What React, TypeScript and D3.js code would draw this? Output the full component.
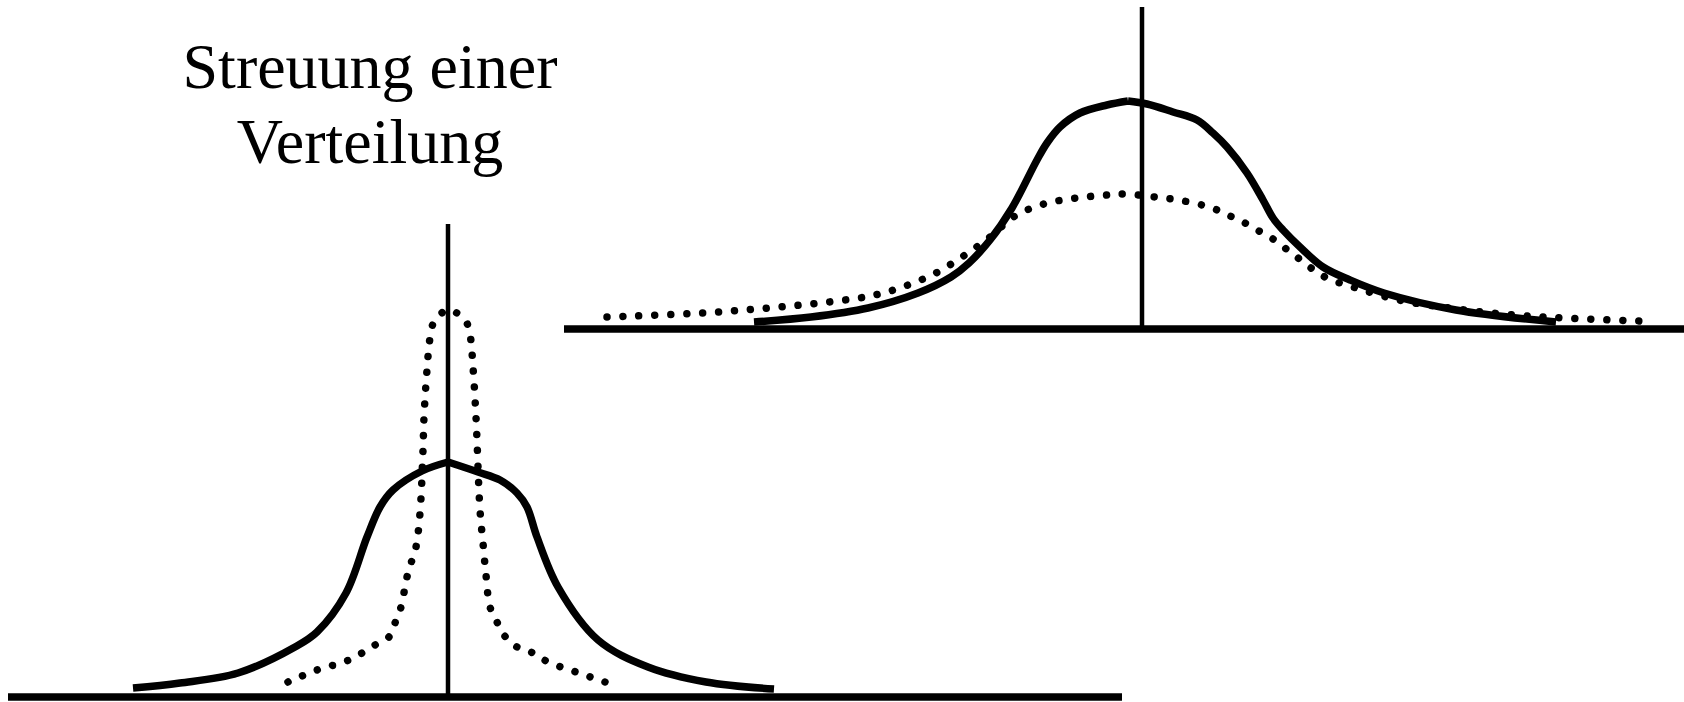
import React, { useLayoutEffect, useRef } from "react";
import * as d3 from "d3";

// Narrow distribution (lower-left panel): x as offset from the centre line, y as height above the base line
const narrowSolidX = [-31.5, -26.8, -21.0, -15.3, -13.1, -10.2, -8.1, -6.8, -5.5, -2.6, 0, 3.0, 5.2, 6.9, 7.9, 8.9, 11.0, 15.0, 20.0, 25.8, 32.6];
const narrowSolidY = [0.9, 1.4, 2.4, 5.0, 6.5, 10.4, 16.0, 19.0, 20.7, 22.6, 23.5, 22.5, 21.7, 20.4, 19.0, 16.0, 11.0, 5.7, 3.0, 1.5, 0.8];

const narrowDottedX = [-16.0, -13.1, -9.9, -7.3, -5.9, -5.3, -4.7, -4.1, -3.6, -3.2, -2.8, -2.5, -2.4, -2.1, -1.8, -1.4, 0, 1.7, 2.2, 2.5, 2.8, 3.2, 3.5, 3.8, 4.2, 4.9, 5.6, 6.9, 8.5, 10.0, 12.8, 15.7];
const narrowDottedY = [1.5, 2.7, 3.7, 5.2, 6.0, 7.4, 9.0, 12.0, 13.7, 15.0, 18.4, 24.7, 28.0, 32.7, 35.9, 37.5, 38.7, 37.7, 36.2, 33.0, 28.0, 18.7, 15.4, 12.2, 9.0, 7.5, 6.2, 5.0, 4.4, 3.5, 2.5, 1.5];

// Wide distribution (upper-right panel)
const wideSolidX = [-38.8, -33.1, -27.4, -22.4, -19.1, -17.3, -15.2, -13.0, -10.5, -9.5, -8.2, -6.2, -3.5, -1.4, 0.5, 3.1, 5.5, 7.1, 8.5, 10.5, 12.1, 13.1, 14.1, 15.8, 18.1, 20.8, 24.2, 31.4, 41.4];
const wideSolidY = [0.7, 1.2, 2.1, 3.6, 5.2, 6.6, 8.9, 12.1, 16.9, 18.6, 20.2, 21.6, 22.4, 22.8, 22.5, 21.7, 20.9, 19.6, 18.2, 15.6, 12.9, 11.1, 9.9, 8.2, 6.2, 4.9, 3.6, 1.9, 0.7];

const wideDottedX = [-53.5, -43.9, -37.4, -31.3, -26.7, -23.4, -20.6, -17.7, -15.2, -12.7, -9.8, -6.6, -3.4, -1.8, 1.3, 4.2, 7.0, 8.8, 10.3, 11.7, 13.1, 14.3, 15.6, 16.9, 18.5, 21.4, 25.7, 30.7, 37.1, 42.2, 49.7];
const wideDottedY = [1.2, 1.6, 2.1, 2.7, 3.4, 4.4, 5.6, 7.4, 9.2, 11.3, 12.5, 13.1, 13.4, 13.5, 13.2, 12.8, 12.1, 11.3, 10.6, 9.8, 9.0, 8.1, 7.1, 6.1, 5.1, 4.1, 2.9, 2.1, 1.4, 1.1, 0.8];

// Axis extents in the same units: [left end, right end] of the base line, top of the centre line
const narrowBaseExtent = [-44, 67.4];
const narrowCentreTop = 47.3;
const wideBaseExtent = [-57.8, 54.2];
const wideCentreTop = 32.2;

const titleLines = ["Streuung einer", "Verteilung"];

const DOT_STEP = 16;

type Pt = [number, number];

const zip = (xs: number[], ys: number[]): Pt[] => xs.map((x, i) => [x, ys[i]]);

function Panel({
  cx, baseY, solid, dotted, baseExtent, centreTop,
}: {
  cx: number; baseY: number; solid: Pt[]; dotted: Pt[]; baseExtent: number[]; centreTop: number;
}) {
  const dotRef = useRef<SVGPathElement>(null);

  const x = d3.scaleLinear().domain([-10, 10]).range([cx - 100, cx + 100]);
  const y = d3.scaleLinear().domain([0, 10]).range([baseY, baseY - 100]);

  const smooth = d3.line<Pt>().x((d) => x(d[0])).y((d) => y(d[1])).curve(d3.curveCatmullRom.alpha(0.5));

  // the solid curve meets in a point at its maximum: draw each flank separately
  const peakIdx = d3.maxIndex(solid, (d) => d[1]);
  const leftFlank = solid.slice(0, peakIdx + 1);
  const rightFlank = solid.slice(peakIdx);

  // space the dots evenly so that one sits at (just inside) each end of the dotted curve
  useLayoutEffect(() => {
    const el = dotRef.current;
    if (!el) return;
    const len = el.getTotalLength();
    const n = Math.max(1, Math.round(len / DOT_STEP));
    const step = (len - 0.5) / n;
    el.setAttribute("stroke-dasharray", `0.01 ${step - 0.01}`);
  }, [dotted]);

  return (
    <g>
      <line x1={x(baseExtent[0])} x2={x(baseExtent[1])} y1={y(0)} y2={y(0)} stroke="#000" strokeWidth={7.5} />
      <line x1={x(0)} x2={x(0)} y1={y(0)} y2={y(centreTop)} stroke="#000" strokeWidth={4.5} />
      <path
        ref={dotRef}
        d={smooth(dotted) || ""}
        fill="none"
        stroke="#000"
        strokeWidth={7.5}
        strokeLinecap="round"
        strokeDasharray={`0 ${DOT_STEP}`}
      />
      <path
        d={(smooth(leftFlank) || "") + (smooth(rightFlank) || "")}
        fill="none"
        stroke="#000"
        strokeWidth={7.5}
      />
    </g>
  );
}

export default function App() {
  return (
    <svg
      width={1684}
      height={702}
      viewBox="0 0 1684 702"
      style={{ position: "absolute", left: 0, top: 0, background: "#fff", display: "block" }}
    >
      <rect width={1684} height={702} fill="#fff" />
      <text
        x={370}
        y={88}
        textAnchor="middle"
        fontFamily="'Liberation Serif', 'Times New Roman', serif"
        fontSize={64}
        fill="#000"
      >
        {titleLines.map((t, i) => (
          <tspan key={t} x={370} dy={i === 0 ? 0 : 75}>{t}</tspan>
        ))}
      </text>
      <Panel
        cx={448}
        baseY={697}
        solid={zip(narrowSolidX, narrowSolidY)}
        dotted={zip(narrowDottedX, narrowDottedY)}
        baseExtent={narrowBaseExtent}
        centreTop={narrowCentreTop}
      />
      <Panel
        cx={1142}
        baseY={329}
        solid={zip(wideSolidX, wideSolidY)}
        dotted={zip(wideDottedX, wideDottedY)}
        baseExtent={wideBaseExtent}
        centreTop={wideCentreTop}
      />
    </svg>
  );
}
